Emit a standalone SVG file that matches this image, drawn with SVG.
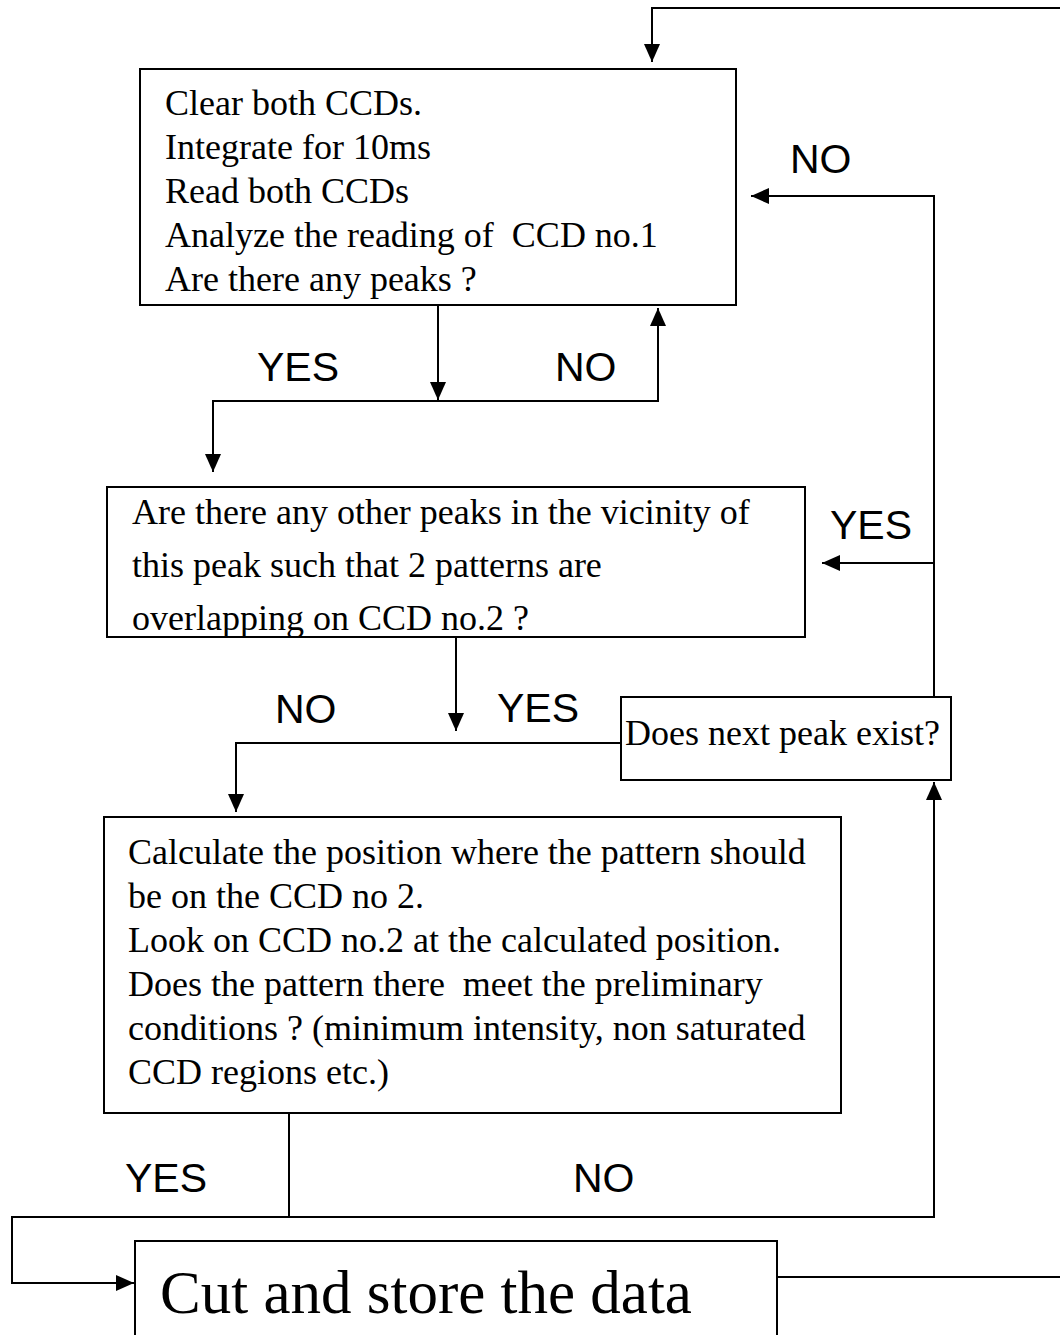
<svg xmlns="http://www.w3.org/2000/svg" width="1060" height="1335" viewBox="0 0 1060 1335">
<defs>
<marker id="ah" viewBox="0 0 18 16" refX="18" refY="8" markerWidth="18" markerHeight="16" markerUnits="userSpaceOnUse" orient="auto">
<path d="M0,0 L18,8 L0,16 z" fill="#000"/>
</marker>
<style>
.box{fill:#fff;stroke:#000;stroke-width:2}
.t{font-family:"Liberation Serif","Times New Roman",serif;font-size:36px;fill:#000}
.big{font-family:"Liberation Serif","Times New Roman",serif;font-size:61px;fill:#000}
.lab{font-family:"Liberation Sans",Arial,sans-serif;font-size:41px;fill:#000}
.c{fill:none;stroke:#000;stroke-width:2}
.a{marker-end:url(#ah)}
</style>
</defs>
<rect width="1060" height="1335" fill="#fff"/>
<g id="connectors">
<polyline class="c a" points="1060,8 652,8 652,62"/>
<polyline class="c a" points="934,697 934,196 751,196"/>
<line class="c a" x1="934" y1="563" x2="822" y2="563"/>
<line class="c a" x1="438" y1="305" x2="438" y2="400"/>
<polyline class="c a" points="438,401 658,401 658,308"/>
<polyline class="c a" points="438,401 213,401 213,472"/>
<line class="c a" x1="456" y1="637" x2="456" y2="731"/>
<polyline class="c a" points="622,743 236,743 236,812"/>
<polyline class="c a" points="289,1113 289,1217 934,1217 934,782"/>
<polyline class="c a" points="289,1217 12,1217 12,1283 134,1283"/>
<line class="c" x1="777" y1="1277" x2="1060" y2="1277"/>
</g>
<g id="labels">
<text class="lab" x="790" y="173">NO</text>
<text class="lab" x="257" y="381">YES</text>
<text class="lab" x="555" y="381">NO</text>
<text class="lab" x="830" y="539">YES</text>
<text class="lab" x="275" y="723">NO</text>
<text class="lab" x="497" y="722">YES</text>
<text class="lab" x="125" y="1192">YES</text>
<text class="lab" x="573" y="1192">NO</text>
</g>
<g id="n1">
<rect class="box" x="140" y="69" width="596" height="236"/>
<text class="t" x="165" y="115">Clear both CCDs.</text>
<text class="t" x="165" y="159">Integrate for 10ms</text>
<text class="t" x="165" y="203">Read both CCDs</text>
<text class="t" x="165" y="247" xml:space="preserve">Analyze the reading of  CCD no.1</text>
<text class="t" x="165" y="291">Are there any peaks ?</text>
</g>
<g id="n2">
<rect class="box" x="107" y="487" width="698" height="150"/>
<text class="t" x="132" y="524">Are there any other peaks in the vicinity of</text>
<text class="t" x="132" y="577">this peak such that 2 patterns are</text>
<text class="t" x="132" y="630">overlapping on CCD no.2 ?</text>
</g>
<g id="n3">
<rect class="box" x="621" y="697" width="330" height="83"/>
<text class="t" x="625" y="745">Does next peak exist?</text>
</g>
<g id="n4">
<rect class="box" x="104" y="817" width="737" height="296"/>
<text class="t" x="128" y="864">Calculate the position where the pattern should</text>
<text class="t" x="128" y="908">be on the CCD no 2.</text>
<text class="t" x="128" y="952">Look on CCD no.2 at the calculated position.</text>
<text class="t" x="128" y="996" xml:space="preserve">Does the pattern there  meet the preliminary</text>
<text class="t" x="128" y="1040">conditions ? (minimum intensity, non saturated</text>
<text class="t" x="128" y="1084">CCD regions etc.)</text>
</g>
<g id="n5">
<rect class="box" x="135" y="1241" width="642" height="110"/>
<text class="big" x="160" y="1313">Cut and store the data</text>
</g>
</svg>
